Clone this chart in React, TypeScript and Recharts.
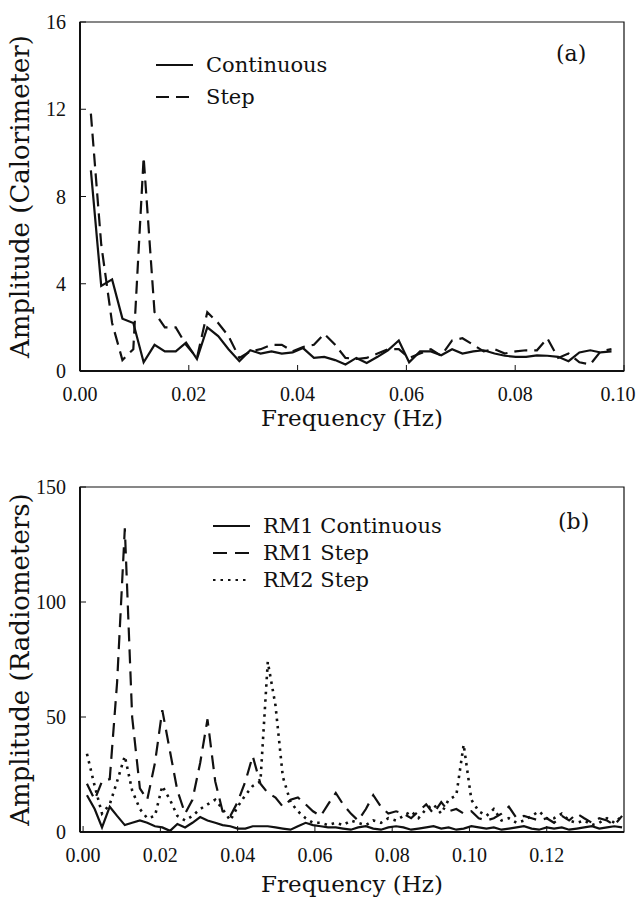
import React from 'react';
import { LineChart, Line, XAxis, YAxis, Legend, ReferenceArea } from 'recharts';

const TITLE_FONT = '"DejaVu Serif", serif';
const NUM_FONT = '"Liberation Serif", serif';
const INK = '#111';
const PAGE_W = 639;

// panel (a): calorimeter spectrum
const freqA = [
  0.002, 0.0039, 0.0059, 0.0078, 0.0098, 0.0117, 0.0137, 0.0156, 0.0176, 0.0195,
  0.0215, 0.0234, 0.0254, 0.0273, 0.0293, 0.0313, 0.0332, 0.0352, 0.0371, 0.0391,
  0.041, 0.043, 0.0449, 0.0469, 0.0488, 0.0508, 0.0527, 0.0547, 0.0566, 0.0586,
  0.0605, 0.0625, 0.0645, 0.0664, 0.0684, 0.0703, 0.0723, 0.0742, 0.0762, 0.0781,
  0.0801, 0.082, 0.084, 0.0859, 0.0879, 0.0898, 0.0918, 0.0938, 0.0957, 0.0977,
];
const continuousA = [
  9.2, 3.9, 4.2, 2.4, 2.2, 0.4, 1.2, 0.9, 0.9, 1.3,
  0.55, 2.0, 1.6, 1.0, 0.45, 0.95, 0.8, 0.9, 0.8, 0.85,
  1.05, 0.6, 0.65, 0.5, 0.3, 0.6, 0.37, 0.65, 0.95, 1.4,
  0.4, 0.9, 0.9, 0.72, 1.0, 0.8, 0.9, 0.95, 0.8, 0.7,
  0.65, 0.65, 0.72, 0.7, 0.65, 0.45, 0.85, 0.95, 0.85, 0.9,
];
const stepA = [
  11.8, 5.8, 2.2, 0.5, 1.0, 9.8, 2.7, 2.0, 2.0, 1.2,
  0.6, 2.7, 2.2, 1.6, 0.6, 0.9, 1.0, 1.2, 1.2, 0.9,
  1.1, 1.2, 1.7, 1.2, 0.6, 0.55, 0.6, 0.8, 1.0, 1.0,
  0.6, 0.8, 1.0, 0.7, 1.4, 1.5, 1.2, 0.9, 1.0, 0.8,
  0.9, 0.95, 0.95, 1.5, 0.6, 0.8, 0.4, 0.3, 0.9, 1.0,
];

// panel (b): radiometer spectra
const freqB = [
  0.001, 0.003, 0.0049, 0.0069, 0.0088, 0.0108, 0.0127, 0.0147, 0.0166, 0.0186,
  0.0205, 0.0225, 0.0244, 0.0264, 0.0283, 0.0303, 0.0322, 0.0342, 0.0361, 0.0381,
  0.04, 0.042, 0.0439, 0.0459, 0.0478, 0.0498, 0.0517, 0.0537, 0.0556, 0.0576,
  0.0595, 0.0615, 0.0634, 0.0654, 0.0673, 0.0693, 0.0712, 0.0732, 0.0751, 0.0771,
  0.079, 0.081, 0.0829, 0.0849, 0.0868, 0.0888, 0.0907, 0.0927, 0.0946, 0.0966,
  0.0985, 0.1005, 0.1024, 0.1044, 0.1063, 0.1083, 0.1102, 0.1122, 0.1141, 0.1161,
  0.118, 0.12, 0.1219, 0.1239, 0.1258, 0.1278, 0.1297, 0.1317, 0.1336, 0.1356,
  0.1375, 0.1395,
];
const rm1Continuous = [
  16, 10, 2, 11, 7, 3, 4, 5, 4, 2.5,
  2, 0.5, 3.5, 2, 4, 6.5, 5, 4, 3, 2.5,
  1.5, 1.5, 2.5, 2.5, 2.5, 2, 1.5, 1, 2.5, 4,
  3, 2.5, 2, 2, 1.5, 1, 2, 2.5, 1.5, 1,
  2, 2.5, 2, 1, 1.5, 2, 2.5, 1.5, 2, 1,
  1.5, 2.5, 2, 1.5, 2, 1, 1.5, 2, 2.5, 1.5,
  1, 2, 1.5, 2, 1, 1.5, 2, 2.5, 1.5, 2,
  2.5, 2,
];
const rm1Step = [
  21, 14, 22, 23, 65, 132, 50, 19, 14, 30,
  53, 35, 18, 8, 14, 30, 49, 22, 9, 7,
  13, 22, 33, 21, 17, 15, 11, 14, 15, 12,
  9, 7, 12, 17, 12, 8, 5, 10, 16, 11,
  8, 9, 8, 6, 9, 12, 8, 13, 9, 10,
  8, 9, 6, 5, 6, 8, 11, 6, 7, 6,
  5, 6, 4, 7, 5, 8, 6, 4, 6, 5,
  3, 7,
];
const rm2Step = [
  34, 20, 8, 12, 22, 33, 18, 10, 6, 7,
  20, 14, 7, 5, 7, 10, 12, 14, 10, 5,
  11, 16, 20, 22, 74, 55, 24, 13, 9, 6,
  4, 4, 3, 4, 3, 5, 4, 3, 5, 4,
  6, 5, 7, 9, 6, 10, 12, 8, 14, 16,
  38, 14, 9, 7, 10, 5, 6, 4, 5, 7,
  9, 6, 6, 8, 5, 4, 5, 3, 4, 6,
  4, 7,
];

const xTicksA = [0, 0.02, 0.04, 0.06, 0.08, 0.1];
const yTicksA = [0, 4, 8, 12, 16];
const xTicksB = [0, 0.02, 0.04, 0.06, 0.08, 0.1, 0.12];
const yTicksB = [0, 50, 100, 150];

const dataA = freqA.map((f, i) => ({ f, continuous: continuousA[i], step: stepA[i] }));
const dataB = freqB.map((f, i) => ({
  f,
  rm1c: rm1Continuous[i],
  rm1s: rm1Step[i],
  rm2s: rm2Step[i],
}));

const DASH: Record<string, string | undefined> = {
  continuous: undefined,
  step: '13 7',
  rm1c: undefined,
  rm1s: '14 8',
  rm2s: '2.5 5',
};

// ticks point into the plot, labels sit outside
function XTick(props: any) {
  const { x, y, payload } = props;
  // keep the last label inside the page
  const shift = Math.min(0, PAGE_W - 3 - (x + 18));
  return (
    <g>
      <line x1={x} x2={x} y1={y - 14} y2={y - 20} stroke={INK} strokeWidth={1} />
      <text x={x + shift} y={y + 16} textAnchor="middle" fontFamily={NUM_FONT} fontSize={20} fill={INK}>
        {Number(payload.value).toFixed(2)}
      </text>
    </g>
  );
}

function YTick(props: any) {
  const { x, y, payload } = props;
  return (
    <g>
      <line x1={x + 14} x2={x + 20} y1={y} y2={y} stroke={INK} strokeWidth={1} />
      <text x={x} y={y + 7} textAnchor="end" fontFamily={NUM_FONT} fontSize={20} fill={INK}>
        {payload.value}
      </text>
    </g>
  );
}

function KeyLegend({ payload, rowHeight }: any) {
  return (
    <div style={{ fontFamily: TITLE_FONT, fontSize: 21, color: INK }}>
      {(payload ?? []).map((entry: any) => (
        <div
          key={entry.value}
          style={{ display: 'flex', alignItems: 'center', height: rowHeight, whiteSpace: 'nowrap' }}
        >
          <svg width={38} height={6} style={{ overflow: 'visible' }}>
            <line
              x1={0}
              x2={37}
              y1={3}
              y2={3}
              stroke={INK}
              strokeWidth={2.2}
              strokeDasharray={DASH[entry.dataKey]}
            />
          </svg>
          <span style={{ marginLeft: 12 }}>{entry.value}</span>
        </div>
      ))}
    </div>
  );
}

const panelTag: React.CSSProperties = {
  position: 'absolute',
  fontFamily: TITLE_FONT,
  fontSize: 22,
  lineHeight: 1,
  color: INK,
};

export default function App() {
  return (
    <div style={{ position: 'absolute', left: 0, top: 0, width: PAGE_W, height: 898, background: '#fff' }}>
      <div style={{ position: 'absolute', left: 0, top: 0 }}>
        <LineChart width={PAGE_W} height={445} data={dataA} margin={{ top: 22, right: 15, bottom: 0, left: 0 }}>
          <XAxis
            dataKey="f"
            type="number"
            domain={[0, 0.1]}
            ticks={xTicksA}
            allowDataOverflow
            height={74}
            tickSize={0}
            tickMargin={14}
            tickLine={false}
            tick={<XTick />}
            axisLine={{ stroke: INK, strokeWidth: 2 }}
            label={{
              value: 'Frequency (Hz)',
              position: 'insideBottom',
              offset: 19,
              style: { fontFamily: TITLE_FONT, fontSize: 23, fill: INK },
            }}
          />
          <YAxis
            type="number"
            domain={[0, 16]}
            ticks={yTicksA}
            width={80}
            tickSize={0}
            tickMargin={14}
            tickLine={false}
            tick={<YTick />}
            axisLine={{ stroke: INK, strokeWidth: 2 }}
            label={{
              value: 'Amplitude (Calorimeter)',
              angle: -90,
              position: 'insideLeft',
              offset: 20,
              style: { fontFamily: TITLE_FONT, fontSize: 26, fill: INK, textAnchor: 'middle' },
            }}
          />
          <ReferenceArea x1={0} x2={0.1} y1={0} y2={16} fill="none" stroke={INK} strokeWidth={1.2} />
          <Line
            dataKey="continuous"
            name="Continuous"
            type="linear"
            stroke={INK}
            strokeWidth={2.2}
            dot={false}
            isAnimationActive={false}
          />
          <Line
            dataKey="step"
            name="Step"
            type="linear"
            stroke={INK}
            strokeWidth={2.2}
            strokeDasharray={DASH.step}
            dot={false}
            isAnimationActive={false}
          />
          <Legend
            layout="vertical"
            align="center"
            verticalAlign="middle"
            wrapperStyle={{ left: 156, top: 49, width: 260 }}
            content={<KeyLegend rowHeight={32} />}
          />
        </LineChart>
      </div>
      <div style={{ ...panelTag, left: 556, top: 43 }}>(a)</div>

      <div style={{ position: 'absolute', left: 0, top: 450 }}>
        <LineChart width={PAGE_W} height={448} data={dataB} margin={{ top: 37, right: 15, bottom: 0, left: 0 }}>
          <XAxis
            dataKey="f"
            type="number"
            domain={[-0.0008, 0.14]}
            ticks={xTicksB}
            allowDataOverflow
            height={66}
            tickSize={0}
            tickMargin={14}
            tickLine={false}
            tick={<XTick />}
            axisLine={{ stroke: INK, strokeWidth: 2 }}
            label={{
              value: 'Frequency (Hz)',
              position: 'insideBottom',
              offset: 6,
              style: { fontFamily: TITLE_FONT, fontSize: 23, fill: INK },
            }}
          />
          <YAxis
            type="number"
            domain={[0, 150]}
            ticks={yTicksB}
            width={80}
            tickSize={0}
            tickMargin={14}
            tickLine={false}
            tick={<YTick />}
            axisLine={{ stroke: INK, strokeWidth: 2 }}
            label={{
              value: 'Amplitude (Radiometers)',
              angle: -90,
              position: 'insideLeft',
              offset: 20,
              style: { fontFamily: TITLE_FONT, fontSize: 26, fill: INK, textAnchor: 'middle' },
            }}
          />
          <ReferenceArea x1={-0.0008} x2={0.14} y1={0} y2={150} fill="none" stroke={INK} strokeWidth={1.2} />
          <Line
            dataKey="rm1c"
            name="RM1 Continuous"
            type="linear"
            stroke={INK}
            strokeWidth={2.2}
            dot={false}
            isAnimationActive={false}
          />
          <Line
            dataKey="rm1s"
            name="RM1 Step"
            type="linear"
            stroke={INK}
            strokeWidth={2.2}
            strokeDasharray={DASH.rm1s}
            dot={false}
            isAnimationActive={false}
          />
          <Line
            dataKey="rm2s"
            name="RM2 Step"
            type="linear"
            stroke={INK}
            strokeWidth={2.6}
            strokeDasharray={DASH.rm2s}
            dot={false}
            isAnimationActive={false}
          />
          <Legend
            layout="vertical"
            align="center"
            verticalAlign="middle"
            wrapperStyle={{ left: 213, top: 62, width: 260 }}
            content={<KeyLegend rowHeight={27} />}
          />
        </LineChart>
      </div>
      <div style={{ ...panelTag, left: 558, top: 511 }}>(b)</div>
    </div>
  );
}
